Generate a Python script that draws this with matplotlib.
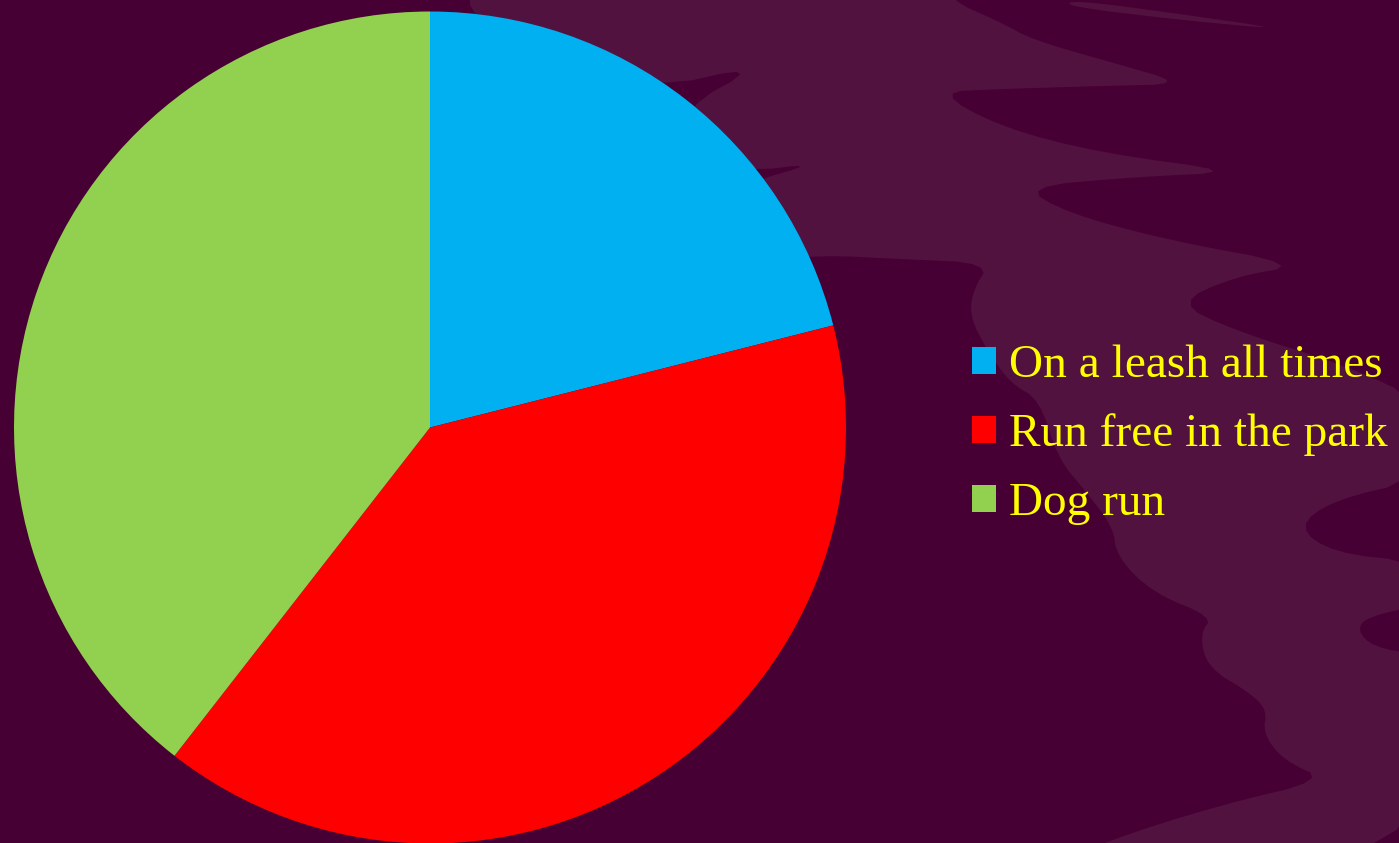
import matplotlib
matplotlib.use('Agg')
import matplotlib.pyplot as plt
from matplotlib.patches import Polygon, Patch
import numpy as np

# data
labels = ['On a leash all times', 'Run free in the park', 'Dog run']
values = [8, 15, 15]
colors = ['#00B0F0', '#FF0000', '#92D050']

BG_DARK = '#470034'
BG_LIGHT = '#52123F'

W, H = 1399, 843
fig = plt.figure(figsize=(W / 100, H / 100), dpi=100, facecolor=BG_DARK)


def chaikin(pts, n=2):
    # corner cutting so the background shape looks less jagged
    p = np.asarray(pts, dtype=float)
    for _ in range(n):
        q = np.roll(p, -1, axis=0)
        p = np.stack([0.75 * p + 0.25 * q, 0.25 * p + 0.75 * q], axis=1).reshape(-1, 2)
    return p


# decorative background (pixel coords, y down)
bg = fig.add_axes([0, 0, 1, 1])
bg.set_xlim(0, W)
bg.set_ylim(H, 0)
bg.axis('off')

flame = [
    (470, -20), (950, -20), (950, 0), (1000, 22), (1033, 40), (1110, 62), (1187, 84),
    (1100, 86), (1000, 89), (937, 92),
    (1000, 127), (1100, 153), (1243, 172),
    (1133, 177), (1023, 187),
    (1067, 213), (1167, 240), (1303, 265),
    (1233, 277), (1177, 303),
    (1233, 330), (1350, 367), (1420, 400),
    (1420, 480), (1333, 500), (1297, 527), (1333, 553), (1420, 562),
    (1420, 605), (1367, 617), (1357, 630), (1373, 647), (1420, 655),
    (1420, 870), (1050, 870), (1100, 843), (1220, 805), (1327, 780),
    (1283, 760), (1263, 733), (1267, 710), (1250, 693), (1207, 667),
    (1200, 633), (1213, 617), (1153, 593), (1117, 557), (1113, 527),
    (1087, 493), (1057, 457), (1040, 400), (1010, 383), (987, 350),
    (970, 317), (973, 290), (990, 263), (900, 259), (820, 255),
    (760, 262), (730, 200), (750, 182), (817, 163), (745, 172),
    (700, 150), (680, 110), (763, 64), (650, 90), (560, 50),
    (470, 20),
]
bg.add_patch(Polygon(chaikin(flame), closed=True, facecolor=BG_LIGHT, edgecolor='none'))
strand = [(1075, 0), (1180, 14), (1290, 30), (1180, 20), (1065, 6)]
bg.add_patch(Polygon(chaikin(strand), closed=True, facecolor=BG_LIGHT, edgecolor='none'))

# pie
cx, cy, R = 430, 427.5, 416
ax = fig.add_axes([(cx - R) / W, (H - cy - R) / H, 2 * R / W, 2 * R / H])
ax.set_facecolor('none')
ax.pie(values, colors=colors, startangle=90, counterclock=False,
       wedgeprops=dict(linewidth=0))
ax.set_xlim(-1, 1)
ax.set_ylim(-1, 1)

handles = [Patch(facecolor=c, edgecolor='none') for c in colors]
fig.legend(handles, labels, loc='center left',
           bbox_to_anchor=(972 / W, 1 - 435 / H),
           frameon=False, prop={'family': 'Liberation Serif', 'size': 34},
           labelcolor='#FFFF00', handlelength=0.51, handleheight=0.51,
           handletextpad=0.275, labelspacing=0.555, borderpad=0, borderaxespad=0)

fig.savefig('out.png', dpi=100, facecolor=BG_DARK)
